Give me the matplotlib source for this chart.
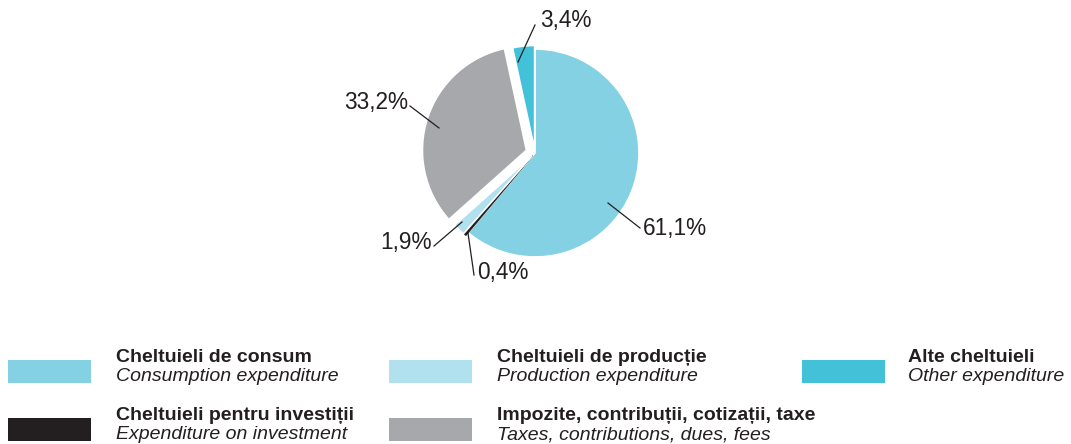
import matplotlib
matplotlib.use("Agg")
import matplotlib.pyplot as plt
from matplotlib.patches import Rectangle

# ---- data ----
labels_ro = ["Cheltuieli de consum", "Cheltuieli pentru investiții",
             "Cheltuieli de producție", "Impozite, contribuții, cotizații, taxe",
             "Alte cheltuieli"]
labels_en = ["Consumption expenditure", "Expenditure on investment",
             "Production expenditure", "Taxes, contributions, dues, fees",
             "Other expenditure"]
values = [61.1, 0.4, 1.9, 33.2, 3.4]
value_labels = ["61,1%", "0,4%", "1,9%", "33,2%", "3,4%"]
colors = ["#84D1E3", "#231F20", "#B1E0EE", "#A7A8AB", "#42C1D9"]

# ---- layout (pixel coordinates, y measured from top) ----
W, H = 1071, 444
center_px = (535, 153)
radius = 104
explode_px = [0, 3.5, 4, 9, 3.5]   # pie explode is in data units (= px here)
# leader lines: (start, end, text position, ha)
leaders = [
    ((608, 203), (640, 228), (643, 228), "left"),
    ((468, 233), (474, 275), (477, 272), "left"),
    ((462, 222), (434, 246), (432, 243), "right"),
    ((439, 128), (410, 106), (408, 103), "right"),
    ((518, 62), (535, 25), (540, 21), "left"),
]
# legend grid: swatch x, text x for columns; swatch top y per row
legend_cols = [(8, 116), (389, 497), (802, 908)]
legend_rows = [360, 418]
legend_order = [(0, 0), (1, 0), (0, 1), (1, 1), (0, 2)]  # (row, col) per item
sw_w, sw_h = 83, 23

plt.rcParams['font.family'] = ['Liberation Sans', 'DejaVu Sans']

fig = plt.figure(figsize=(W / 100, H / 100), dpi=100)
ax = fig.add_axes([0, 0, 1, 1])

def Y(y):
    return H - y

wedges, _ = ax.pie(values, colors=colors, startangle=90, counterclock=False,
                   explode=explode_px, radius=radius,
                   center=(center_px[0], Y(center_px[1])),
                   wedgeprops=dict(edgecolor="white", linewidth=1.2))
# keep the very thin investment slice visible
wedges[1].set_edgecolor(colors[1])
wedges[1].set_linewidth(0.8)

ax.set_xlim(0, W)
ax.set_ylim(0, H)
ax.set_aspect("equal")
ax.axis("off")

for (s, e, t, ha), lab in zip(leaders, value_labels):
    ax.plot([s[0], e[0]], [Y(s[1]), Y(e[1])], color="#231F20", lw=0.9)
    ax.text(t[0], Y(t[1]), lab, ha=ha, va="center", fontsize=16.3,
            color="#231F20")

for i, (r, c) in enumerate(legend_order):
    sx, tx = legend_cols[c]
    top = legend_rows[r]
    ax.add_patch(Rectangle((sx, Y(top + sw_h)), sw_w, sw_h,
                           facecolor=colors[i], edgecolor="none"))
    ax.text(tx, Y(top - 3), labels_ro[i], ha="left", va="center",
            fontsize=14, fontweight="bold", color="#231F20")
    ax.text(tx, Y(top + 16.5), labels_en[i], ha="left", va="center",
            fontsize=14, fontstyle="italic", color="#231F20")

fig.savefig("out.png", dpi=100)
